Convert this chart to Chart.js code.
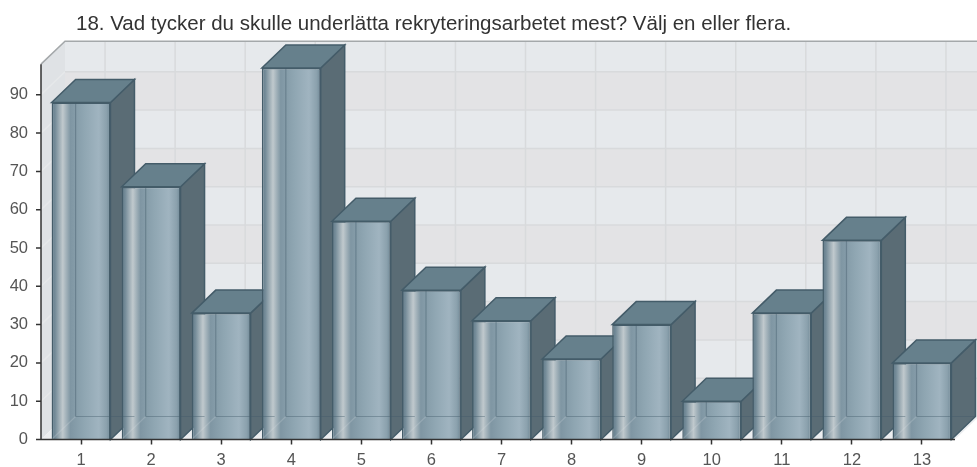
<!DOCTYPE html>
<html>
<head>
<meta charset="utf-8">
<title>Rekrytering</title>
<script src="https://cdn.jsdelivr.net/npm/chart.js@4"></script>
<style>
    html, body { margin: 0; background: #fff; }
    canvas { display: block; }
</style>
</head>
<body>
<canvas id="chart" width="977" height="467"></canvas>
<script>
const titleText = '18. Vad tycker du skulle underlätta rekryteringsarbetet mest? Välj en eller flera.';
const categories = ['1', '2', '3', '4', '5', '6', '7', '8', '9', '10', '11', '12', '13'];
const answers = [88, 66, 33, 97, 57, 39, 31, 21, 30, 10, 33, 52, 20];
const wallTop = 98;

// depth of the fake 3d box
const depthX = 24;
const depthY = 23;
const edgeColor = '#445c69';

function frontGradient(context) {
    const chart = context.chart;
    const x = chart.scales.x.getPixelForValue(context.dataIndex);
    if (!Number.isFinite(x)) return '#8fa6b2';
    const g = chart.ctx.createLinearGradient(x - 29.5, 0, x + 29.5, 0);
    g.addColorStop(0, '#607a89');
    g.addColorStop(0.06, '#748b98');
    g.addColorStop(0.19, '#c0c9cd');
    g.addColorStop(0.32, '#7f96a3');
    g.addColorStop(0.55, '#8fa6b2');
    g.addColorStop(0.8, '#a0b4c0');
    g.addColorStop(0.93, '#8ba1ad');
    g.addColorStop(1, '#6f8896');
    return g;
}

function poly(ctx, points, fill, stroke) {
    ctx.beginPath();
    points.forEach((p, i) => i ? ctx.lineTo(p[0], p[1]) : ctx.moveTo(p[0], p[1]));
    ctx.closePath();
    if (fill) { ctx.fillStyle = fill; ctx.fill(); }
    if (stroke) { ctx.strokeStyle = stroke; ctx.lineWidth = 1.5; ctx.stroke(); }
}

const box3d = {
    id: 'box3d',
    afterLayout(chart) {
        chart.titleBlock.left = 76;
    },
    beforeDatasetsDraw(chart) {
        const ctx = chart.ctx;
        const xs = chart.scales.x;
        const ys = chart.scales.y;
        const left = 41;
        const right = 955;
        const y0 = ys.getPixelForValue(0);
        const yTop = ys.getPixelForValue(wallTop);
        const w = chart.width;

        // left wall, back wall, floor
        poly(ctx, [[left, y0], [left + depthX, y0 - depthY], [left + depthX, yTop - depthY], [left, yTop]], '#dfe2e5');
        poly(ctx, [[left + depthX, y0 - depthY], [w + 5, y0 - depthY], [w + 5, yTop - depthY], [left + depthX, yTop - depthY]], '#e6e9ec');
        poly(ctx, [[left, y0], [right, y0], [right + depthX, y0 - depthY], [left + depthX, y0 - depthY]], '#eceef0');

        // grey bands on the back wall
        for (let v = 0; v <= 80; v += 20) {
            const a = ys.getPixelForValue(v) - depthY;
            const b = ys.getPixelForValue(v + 10) - depthY;
            poly(ctx, [[left + depthX, a], [w + 5, a], [w + 5, b], [left + depthX, b]], '#e3e3e5');
        }

        // wall grid
        ctx.lineWidth = 1.5;
        for (let v = 10; v <= 90; v += 10) {
            const y = ys.getPixelForValue(v);
            ctx.strokeStyle = '#e6e8ea';
            ctx.beginPath();
            ctx.moveTo(left, y);
            ctx.lineTo(left + depthX, y - depthY);
            ctx.stroke();
            ctx.strokeStyle = '#d8dadc';
            ctx.beginPath();
            ctx.moveTo(left + depthX, y - depthY);
            ctx.lineTo(w + 5, y - depthY);
            ctx.stroke();
        }
        categories.forEach((c, i) => {
            const x = xs.getPixelForValue(i) + depthX;
            ctx.beginPath();
            ctx.moveTo(x, yTop - depthY);
            ctx.lineTo(x, y0 - depthY);
            ctx.stroke();
        });

        // wall outline
        ctx.strokeStyle = '#a4a8aa';
        ctx.beginPath();
        ctx.moveTo(left, yTop);
        ctx.lineTo(left + depthX, yTop - depthY);
        ctx.lineTo(w + 5, yTop - depthY);
        ctx.stroke();

        // side and top faces, left to right
        chart.getDatasetMeta(0).data.forEach(bar => {
            const l = bar.x - bar.width / 2;
            const r = bar.x + bar.width / 2;
            poly(ctx, [[r, bar.y], [r + depthX, bar.y - depthY], [r + depthX, y0 - depthY], [r, y0]], '#5a6c75', edgeColor);
            poly(ctx, [[l, bar.y], [l + depthX, bar.y - depthY], [r + depthX, bar.y - depthY], [r, bar.y]], '#66808c', edgeColor);
        });
    },
    afterDatasetsDraw(chart) {
        const ctx = chart.ctx;
        const ys = chart.scales.y;
        const y0 = ys.getPixelForValue(0);

        // back edges seen through the glass
        chart.getDatasetMeta(0).data.forEach(bar => {
            const l = bar.x - bar.width / 2;
            const r = bar.x + bar.width / 2;
            ctx.lineWidth = 1.2;
            ctx.strokeStyle = 'rgba(64,89,106,0.4)';
            ctx.beginPath();
            ctx.moveTo(l + depthX, bar.y);
            ctx.lineTo(l + depthX, y0 - depthY);
            ctx.lineTo(r + depthX, y0 - depthY);
            ctx.stroke();
            ctx.strokeStyle = 'rgba(225,232,236,0.2)';
            ctx.beginPath();
            ctx.moveTo(l, y0);
            ctx.lineTo(l + depthX, y0 - depthY);
            ctx.stroke();
        });

        // axes
        ctx.strokeStyle = '#333';
        ctx.lineWidth = 1.5;
        ctx.beginPath();
        ctx.moveTo(41, ys.getPixelForValue(wallTop));
        ctx.lineTo(41, y0);
        ctx.moveTo(36, y0);
        ctx.lineTo(955, y0);
        for (let v = 10; v <= 90; v += 10) {
            const y = ys.getPixelForValue(v);
            ctx.moveTo(36, y);
            ctx.lineTo(41, y);
        }
        ctx.stroke();
    }
};

new Chart(document.getElementById('chart'), {
    type: 'bar',
    data: {
        labels: categories,
        datasets: [{
            data: answers,
            backgroundColor: frontGradient,
            borderColor: edgeColor,
            borderWidth: 1.5,
            barPercentage: 0.84,
            categoryPercentage: 1
        }]
    },
    options: {
        responsive: false,
        animation: false,
        layout: { padding: { right: 20 } },
        plugins: {
            legend: { display: false },
            tooltip: { enabled: false },
            title: {
                display: true,
                text: titleText,
                align: 'start',
                color: '#333',
                font: { family: 'Liberation Sans', size: 20.5, weight: 'normal', lineHeight: 1.2 },
                padding: { top: 12, bottom: 19.9 }
            }
        },
        scales: {
            x: {
                border: { display: false },
                grid: { drawOnChartArea: false, offset: false, tickLength: 5, tickColor: '#333', tickWidth: 1.5 },
                ticks: { color: '#555', padding: 6, font: { family: 'Liberation Sans', size: 16.5 } },
                afterFit(scale) { scale.height = 27.5; }
            },
            y: {
                min: 0,
                max: 100,
                border: { display: false },
                grid: { display: false },
                ticks: {
                    stepSize: 10,
                    color: '#555',
                    padding: 10,
                    font: { family: 'Liberation Sans', size: 16.5 },
                    callback: v => v === 100 ? '' : v
                },
                afterFit(scale) { scale.width = 46; }
            }
        }
    },
    plugins: [box3d]
});
</script>
</body>
</html>
